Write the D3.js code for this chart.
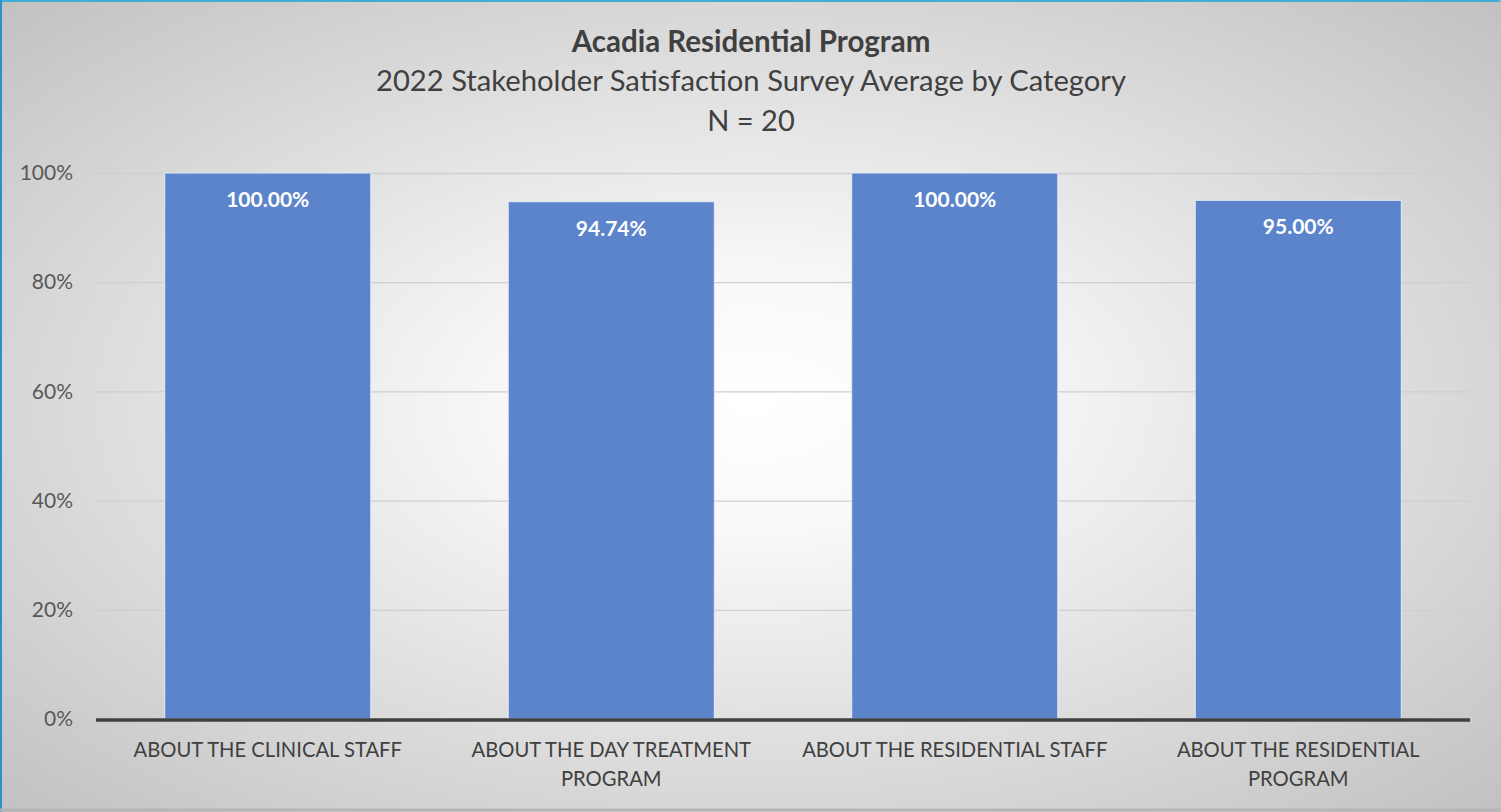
<!DOCTYPE html>
<html>
<head>
<meta charset="utf-8">
<script src="https://cdn.jsdelivr.net/npm/d3@7"></script>
<style>
  html, body { margin: 0; padding: 0; overflow: hidden; }
  text { font-family: Lato, "Open Sans", sans-serif; }
</style>
</head>
<body>
<div id="chart"></div>
<script>
/* DATA */
const categories = [
  "ABOUT THE CLINICAL STAFF",
  "ABOUT THE DAY TREATMENT PROGRAM",
  "ABOUT THE RESIDENTIAL STAFF",
  "ABOUT THE RESIDENTIAL PROGRAM"
];
const averages = [1.0, 0.9474, 1.0, 0.95];
const yTicks = [0, 0.2, 0.4, 0.6, 0.8, 1.0];
const titleLines = [
  "Acadia Residential Program",
  "2022 Stakeholder Satisfaction Survey Average by Category",
  "N = 20"
];

/* CONSTANTS */
const width = 1501;
const height = 812;
const margin = { top: 173, right: 31, bottom: 93, left: 96 };
const font = "Lato, 'Open Sans', sans-serif";

const svg = d3.select("#chart")
  .append("svg")
  .attr("width", width)
  .attr("height", height);

// background: light radial gradient like the Excel chart area
const defs = svg.append("defs");
const grad = defs.append("radialGradient")
  .attr("id", "bg")
  .attr("cx", "50%").attr("cy", "50%").attr("r", "75%");
grad.append("stop").attr("offset", "0%").attr("stop-color", "#ffffff");
grad.append("stop").attr("offset", "20%").attr("stop-color", "#f9f9f9");
grad.append("stop").attr("offset", "100%").attr("stop-color", "#bdbdbd");

svg.append("rect")
  .attr("width", width).attr("height", height)
  .attr("fill", "url(#bg)");

// frame edges
svg.append("line").attr("x1", 0).attr("x2", width).attr("y1", 1).attr("y2", 1)
  .attr("stroke", "#41acd8").attr("stroke-width", 2);
svg.append("line").attr("x1", 1).attr("x2", 1).attr("y1", 0).attr("y2", height)
  .attr("stroke", "#2f8fc8").attr("stroke-width", 2);
svg.append("line").attr("x1", 0).attr("x2", width).attr("y1", height - 2).attr("y2", height - 2)
  .attr("stroke", "#b5b5b5").attr("stroke-width", 3);
svg.append("line").attr("x1", width - 1).attr("x2", width - 1).attr("y1", 0).attr("y2", height)
  .attr("stroke", "#c0c0c0").attr("stroke-width", 1);

/* SCALES */
const xScale = d3.scaleBand()
  .domain(categories)
  .range([margin.left, width - margin.right])
  .paddingInner(0.4)
  .paddingOuter(0.2);

const yScale = d3.scaleLinear()
  .domain([0, 1])
  .range([height - margin.bottom, margin.top]);

/* GRID + Y AXIS */
const yAxis = d3.axisLeft(yScale)
  .tickValues(yTicks)
  .tickFormat(d3.format(".0%"))
  .tickSize(-(width - margin.left - margin.right))
  .tickPadding(23);

const gy = svg.append("g")
  .attr("transform", `translate(${margin.left},0)`)
  .call(yAxis);
gy.select(".domain").remove();
gy.selectAll(".tick line").attr("stroke", "#cfcfcf").attr("stroke-width", 1.3);
gy.selectAll(".tick text")
  .attr("fill", "#595959")
  .attr("font-size", "21px")
  .attr("font-family", font);

/* BARS */
svg.selectAll("rect.bar")
  .data(averages)
  .join("rect")
  .attr("class", "bar")
  .attr("x", (d, i) => xScale(categories[i]))
  .attr("y", d => yScale(d))
  .attr("width", xScale.bandwidth())
  .attr("height", d => yScale(0) - yScale(d))
  .attr("fill", "#5b84cb")
  .attr("stroke", "#e6ecf6")
  .attr("stroke-width", 1);

svg.selectAll("text.val")
  .data(averages)
  .join("text")
  .attr("class", "val")
  .attr("x", (d, i) => xScale(categories[i]) + xScale.bandwidth() / 2)
  .attr("y", d => yScale(d) + 34)
  .attr("text-anchor", "middle")
  .attr("fill", "#ffffff")
  .attr("font-weight", "bold")
  .attr("font-size", "21px")
  .text(d => d3.format(".2%")(d));

/* BASELINE */
svg.append("line")
  .attr("x1", margin.left).attr("x2", width - margin.right)
  .attr("y1", yScale(0) + 1).attr("y2", yScale(0) + 1)
  .attr("stroke", "#404040")
  .attr("stroke-width", 3.5);

/* CATEGORY LABELS (wrapped) */
const maxW = xScale.step() * 0.97;
categories.forEach(cat => {
  const t = svg.append("text")
    .attr("text-anchor", "middle")
    .attr("fill", "#404040")
    .attr("font-size", "20.2px")
    .attr("x", xScale(cat) + xScale.bandwidth() / 2)
    .attr("y", 757);
  const words = cat.split(" ");
  let line = [];
  let tspan = t.append("tspan").attr("x", t.attr("x")).attr("dy", 0);
  words.forEach(w => {
    line.push(w);
    tspan.text(line.join(" "));
    if (tspan.node().getComputedTextLength() > maxW && line.length > 1) {
      line.pop();
      tspan.text(line.join(" "));
      line = [w];
      tspan = t.append("tspan").attr("x", t.attr("x")).attr("dy", 29).text(w);
    }
  });
});

/* TITLE */
const titleY = [52, 91, 131];
const titleSize = [29.5, 29.2, 29];
titleLines.forEach((s, i) => {
  svg.append("text")
    .attr("x", 751)
    .attr("y", titleY[i])
    .attr("text-anchor", "middle")
    .attr("fill", "#404040")
    .attr("font-size", titleSize[i] + "px")
    .attr("font-weight", i === 0 ? "bold" : "normal")
    .text(s);
});
</script>
</body>
</html>
